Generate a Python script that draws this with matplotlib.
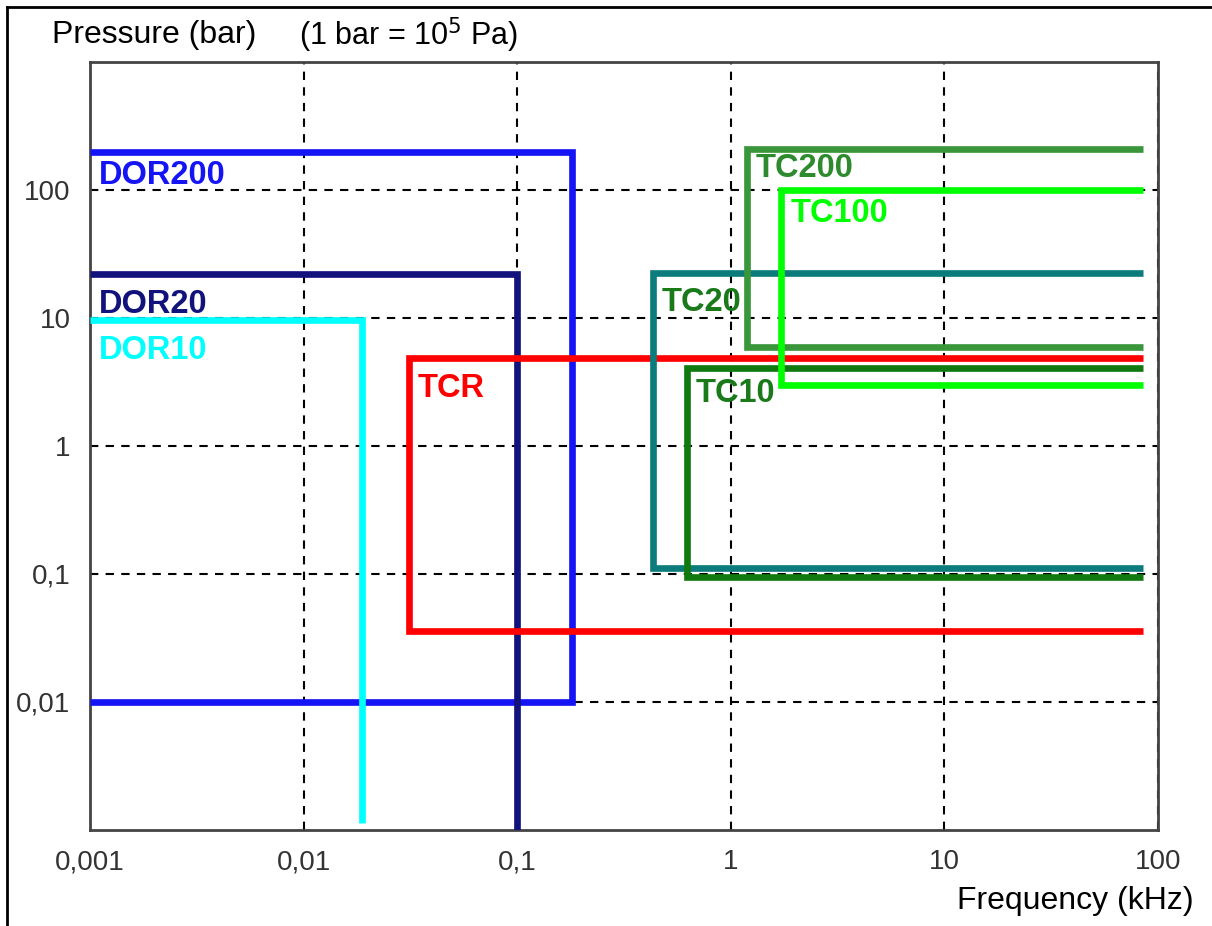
#!/usr/bin/env python3

import matplotlib
matplotlib.use('Agg')
import matplotlib.pyplot as plt
from matplotlib.lines import Line2D

plt.rcParams['font.family'] = ['Liberation Sans', 'DejaVu Sans']

# frequency range (kHz) and pressure range (bar) of each device
names = ['DOR200', 'DOR20', 'DOR10', 'TCR', 'TC20', 'TC10', 'TC200', 'TC100']
f_min = [0.001, 0.001, 0.001, 0.031, 0.43, 0.62, 1.19, 1.72]
f_max = [0.18, 0.1, 0.0188, 85, 85, 85, 85, 85]
p_min = [0.01, 0.001, 0.00113, 0.036, 0.112, 0.094, 5.9, 3.0]
p_max = [200, 22, 9.7, 4.9, 22.5, 4.1, 210, 100]
colors = ['#1414f5', '#12127c', '#00ffff', '#ff0000', '#0b7b7b',
          '#107a10', '#3a963a', '#00ff00']
label_colors = ['#1414f5', '#12127c', '#00ffff', '#ff0000', '#1a7a1a',
                '#1a7a1a', '#2e8a2e', '#00ff00']

xticks = [0.001, 0.01, 0.1, 1, 10, 100]
xticklabels = ['0,001', '0,01', '0,1', '1', '10', '100']
yticks = [0.01, 0.1, 1, 10, 100]
yticklabels = ['0,01', '0,1', '1', '10', '100']

fig = plt.figure(figsize=(12.12, 9.26), dpi=100)
ax = fig.add_axes([0.0743, 0.1037, 0.8812, 0.8293])
ax.set_xscale('log')
ax.set_yscale('log')
ax.set_xlim(0.001, 100)
ax.set_ylim(0.001, 1000)

for i, name in enumerate(names):
    x0, x1, y0, y1 = f_min[i], f_max[i], p_min[i], p_max[i]
    if name.startswith('DOR'):
        # top edge, right edge, bottom edge (open on the left)
        if name == 'DOR200':
            xs, ys = [x0, x1, x1, x0], [y1, y1, y0, y0]
        else:
            xs, ys = [x0, x1, x1], [y1, y1, y0]
    else:
        # open on the right
        xs, ys = [x1, x0, x0, x1], [y1, y1, y0, y0]
    ax.plot(xs, ys, color=colors[i], lw=4.8, solid_joinstyle='miter',
            solid_capstyle='butt', zorder=3)

# labels just under the top-left corner of each outline
drop = [17, 22, 22, 22, 21, 19, 14, 17]  # points
for i, name in enumerate(names):
    ax.annotate(name, (f_min[i], p_max[i]), xytext=(6.5, -drop[i]),
                textcoords='offset points', color=label_colors[i],
                fontsize=23.5, fontweight='bold', ha='left', va='center',
                zorder=4)

ax.grid(True, which='major', color='black', ls=(0, (4, 3.5)), lw=1.5)
ax.minorticks_off()
ax.set_xticks(xticks)
ax.set_xticklabels(xticklabels)
ax.set_yticks(yticks)
ax.set_yticklabels(yticklabels)
ax.tick_params(length=0, labelsize=20, labelcolor='#333333', pad=14)
for s in ax.spines.values():
    s.set_color('#444444')
    s.set_linewidth(2)

fig.text(0.043, 0.962, 'Pressure (bar)', fontsize=23, ha='left', va='center')
fig.text(0.247, 0.962, '(1 bar = 10$^{5}$ Pa)', fontsize=22, ha='left', va='center')
fig.text(0.985, 0.027, 'Frequency (kHz)', fontsize=23, ha='right', va='center')

# border of the screenshot on the left and top
fig.add_artist(Line2D([0.006, 0.006], [0, 0.992], color='black', lw=2))
fig.add_artist(Line2D([0.006, 1], [0.992, 0.992], color='black', lw=2))

fig.savefig('out.png', dpi=100)
